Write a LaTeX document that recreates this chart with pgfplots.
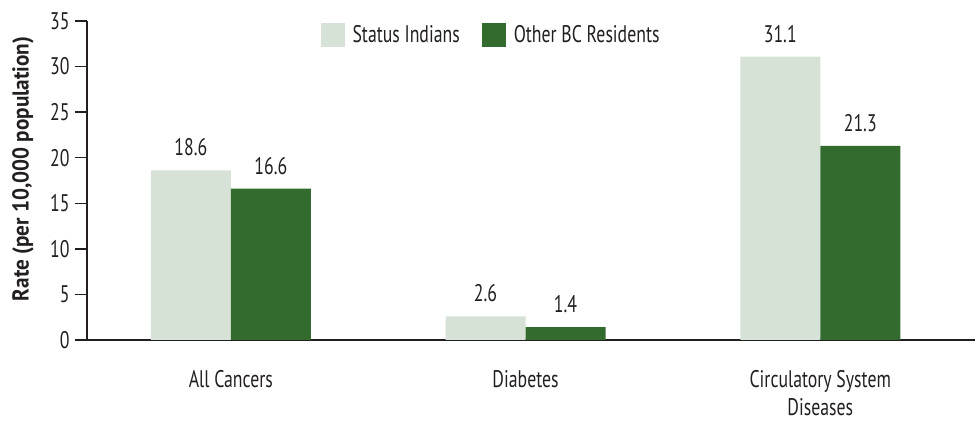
\documentclass[border=0pt]{standalone}
\usepackage{pgfplots}
\pgfplotsset{compat=1.18}
\usepackage{fontspec}
\setmainfont[FakeStretch=0.74]{PT Sans}
\newfontfamily\ylfont[FakeStretch=0.92]{PT Sans}
\definecolor{lightg}{HTML}{D6E2D6}
\definecolor{darkg}{HTML}{336B2E}
\definecolor{axc}{HTML}{231F20}
\newcommand{\fs}{\fontsize{24}{28}\selectfont}
\begin{document}
\begin{tikzpicture}[x=1pt,y=1pt]
\useasboundingbox (-87,-82) rectangle (893,340);
\begin{axis}[
  at={(0,0)}, anchor=south west,
  scale only axis, width=888pt, height=319pt,
  ybar=0pt, bar width=80pt,
  xmin=-0.488, xmax=2.525, ymin=0, ymax=35,
  xtick={0,1,2},
  xticklabels={All Cancers, Diabetes, {Circulatory System\\Diseases}},
  xticklabel style={font=\fs, align=center, text=axc, yshift=-15pt},
  ytick={0,5,...,35},
  yticklabel style={font=\fs, text=axc, xshift=-2pt},
  /pgf/number format/assume math mode=true,
  axis x line=bottom, axis y line=left,
  axis line style={-, line width=1.5pt, color=axc},
  x axis line style={shorten <=-12pt},
  tick style={line width=1.5pt, color=axc},
  xtick style={draw=none},
  ytick pos=left, tick align=outside, major tick length=12pt,
  ylabel={\ylfont\bfseries Rate (per 10,000 population)},
  ylabel style={font=\fontsize{23}{27}\selectfont, text=axc, at={(axis description cs:-0.072,0.536)}, anchor=center, rotate=0},
  legend style={draw=none, font=\fs, text=axc, legend columns=2, at={(0.455,0.956)}, anchor=center,
    /tikz/every even column/.append style={column sep=20pt}},
  legend image code/.code={\fill[#1] (0pt,-12pt) rectangle (24pt,12pt); \path (30pt,0pt);},
  nodes near coords,
  nodes near coords style={font=\fs, text=axc, anchor=south, inner sep=0pt, yshift=14pt,
    /pgf/number format/.cd, fixed, fixed zerofill, precision=1},
]
\addplot[fill=lightg, draw=none] coordinates {(0,18.6) (1,2.6) (2,31.1)};
\addplot[fill=darkg, draw=none] coordinates {(0,16.6) (1,1.4) (2,21.3)};
\legend{Status Indians, Other BC Residents}
\end{axis}
\end{tikzpicture}
\end{document}
